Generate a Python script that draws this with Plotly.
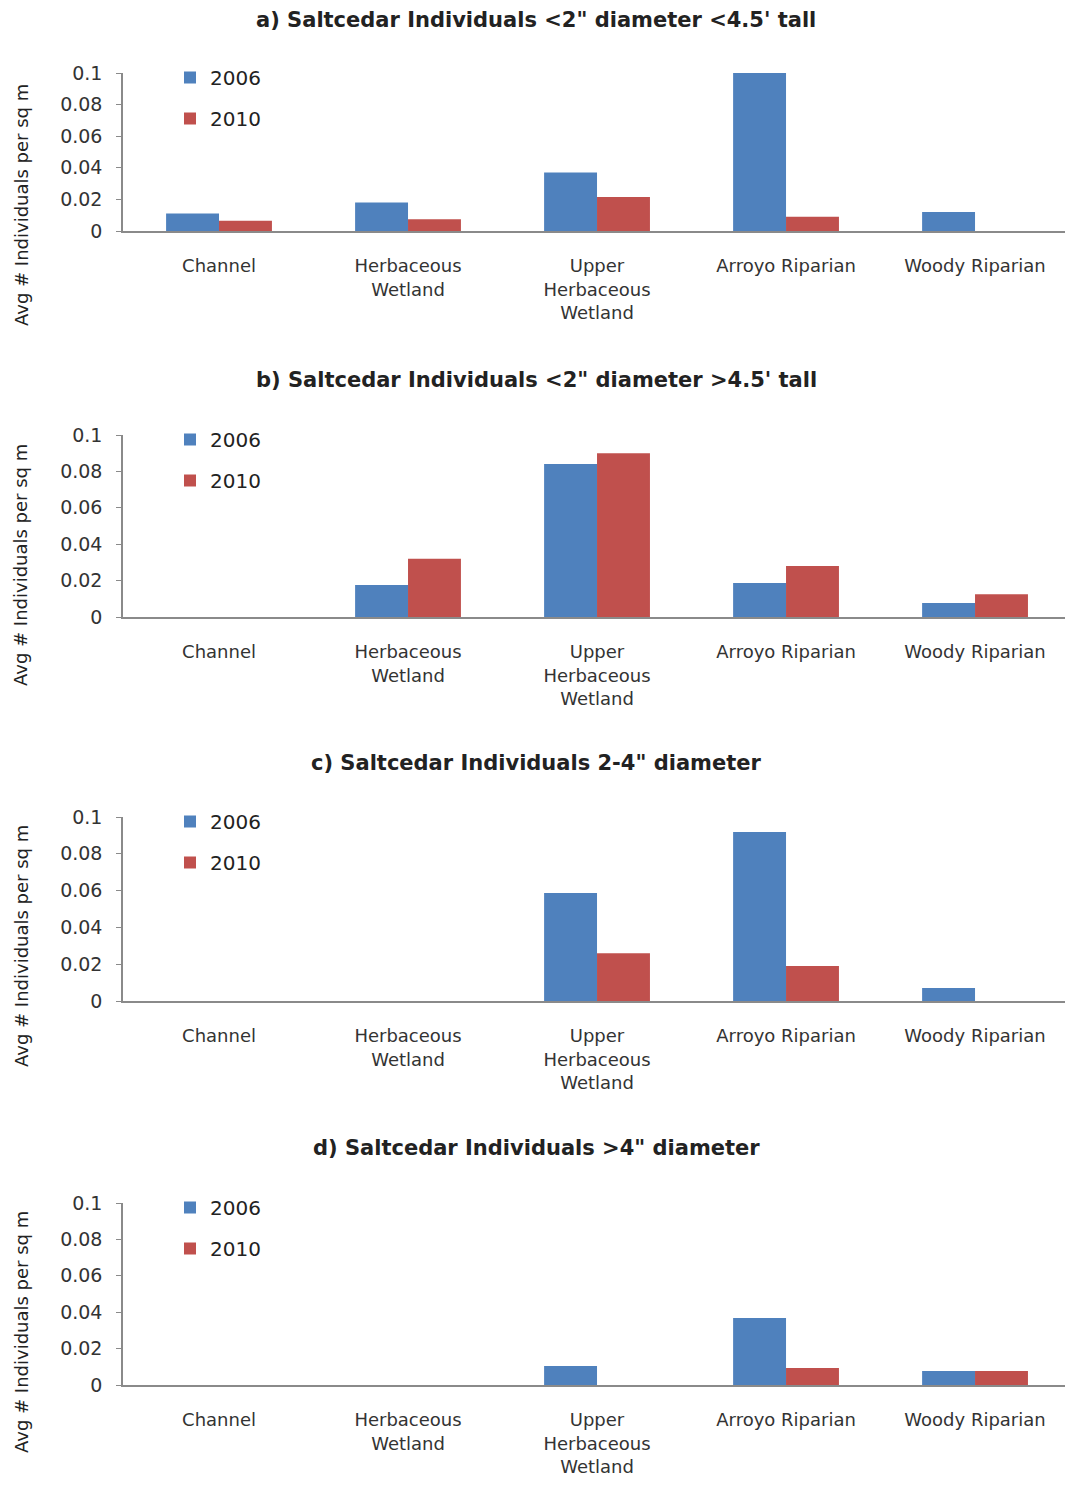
import plotly.graph_objects as go

categories = ["Channel", "Herbaceous<br>Wetland", "Upper<br>Herbaceous<br>Wetland", "Arroyo Riparian", "Woody Riparian"]
years = ["2006", "2010"]

a_2006 = [0.011, 0.018, 0.037, 0.100, 0.012]
a_2010 = [0.0065, 0.0075, 0.0215, 0.009, 0.0]
b_2006 = [0.0, 0.0176, 0.084, 0.0187, 0.0077]
b_2010 = [0.0, 0.032, 0.090, 0.028, 0.0125]
c_2006 = [0.0, 0.0, 0.0587, 0.0918, 0.007]
c_2010 = [0.0, 0.0, 0.026, 0.019, 0.0]
d_2006 = [0.0, 0.0, 0.0104, 0.0368, 0.0077]
d_2010 = [0.0, 0.0, 0.0, 0.0093, 0.0077]

titles = [
    "a) Saltcedar Individuals <2\" diameter <4.5' tall",
    "b) Saltcedar Individuals <2\" diameter >4.5' tall",
    "c) Saltcedar Individuals 2-4\" diameter",
    "d) Saltcedar Individuals >4\" diameter",
]
y_title = "Avg # Individuals per sq m"
y_ticks = [0, 0.02, 0.04, 0.06, 0.08, 0.1]
y_ticktext = ["0", "0.02", "0.04", "0.06", "0.08", "0.1"]

panels = [(a_2006, a_2010), (b_2006, b_2010), (c_2006, c_2010), (d_2006, d_2010)]

W, H = 1065, 1485
BLUE = "#4F81BD"
RED = "#C0504D"

# pixel layout of each plot area (top, bottom), title y, y-axis-title center
plot_px = [(73, 231), (435, 617), (817, 1001), (1203, 1385)]
title_px = [20, 380, 763, 1148]
ytitle_px = [205, 565, 946, 1332]
x_left_px = 123

def py(p):
    return 1 - p / H

fig = go.Figure()
font_main = "DejaVu Sans"

for i, (s06, s10) in enumerate(panels):
    n = "" if i == 0 else str(i + 1)
    xa = "x" + n
    ya = "y" + n
    lg = "legend" + n
    for vals, yr, col in [(s06, years[0], BLUE), (s10, years[1], RED)]:
        fig.add_trace(go.Bar(
            x=categories, y=vals, name=yr, marker_color=col, marker_line_width=0,
            xaxis=xa, yaxis=ya, legend=lg, legendgroup=f"{i}{yr}",
            hoverinfo="skip",
        ))
    top, bot = plot_px[i]
    fig.layout["xaxis" + n] = dict(
        domain=[x_left_px / W, 1.0], anchor=ya, type="category",
        range=[-0.508, 4.476],
        showline=True, linecolor="#8a8a8a", linewidth=1.5, ticks="",
        showgrid=False, zeroline=False,
        tickfont=dict(family=font_main, size=18, color="#333"),
        ticklabelstandoff=18, tickangle=0,
    )
    fig.layout["yaxis" + n] = dict(
        domain=[py(bot), py(top)], anchor=xa, range=[0, 0.1],
        tickvals=y_ticks, ticktext=y_ticktext,
        showline=True, linecolor="#8a8a8a", linewidth=1.5,
        ticks="outside", ticklen=5, tickcolor="#8a8a8a",
        showgrid=False, zeroline=False,
        tickfont=dict(family=font_main, size=19, color="#333"),
        ticklabelstandoff=10,
    )
    fig.layout[lg] = dict(
        x=170 / W, y=py(top - 15), xanchor="left", yanchor="top",
        bgcolor="rgba(0,0,0,0)", font=dict(family=font_main, size=20, color="#222"),
        tracegroupgap=12, itemwidth=30,
    )
    fig.add_annotation(
        text="<b>" + titles[i].replace("<", "&lt;").replace(">", "&gt;") + "</b>",
        x=536 / W, y=py(title_px[i]), xref="paper", yref="paper",
        xanchor="center", yanchor="middle", showarrow=False,
        font=dict(family=font_main, size=21, color="#222"),
    )
    fig.add_annotation(
        text=y_title, textangle=-90,
        x=21 / W, y=py(ytitle_px[i]), xref="paper", yref="paper",
        xanchor="center", yanchor="middle", showarrow=False,
        font=dict(family=font_main, size=18, color="#222"),
    )

fig.update_layout(
    width=W, height=H, margin=dict(l=0, r=0, t=0, b=0, autoexpand=False),
    paper_bgcolor="white", plot_bgcolor="white",
    barmode="group", bargap=0.44, bargroupgap=0,
    showlegend=True,
)

fig.write_html("out.html")
